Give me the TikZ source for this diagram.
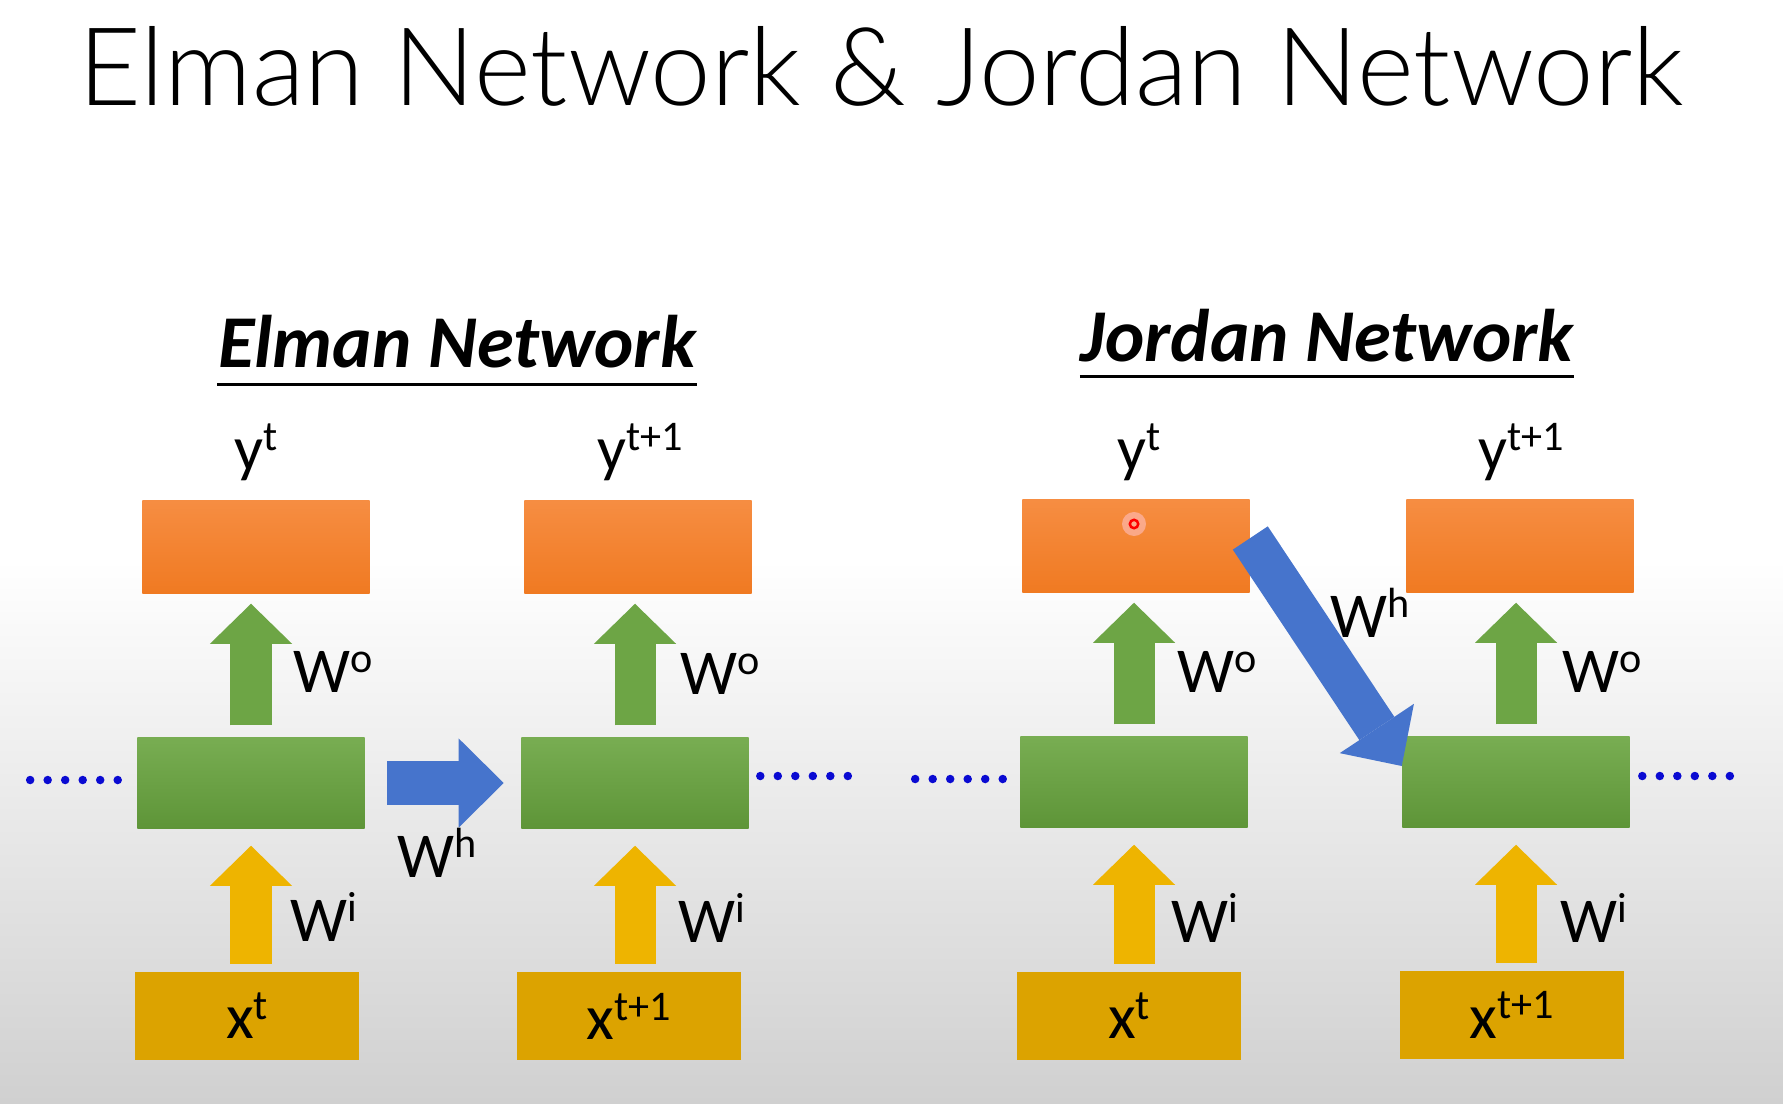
\documentclass[tikz,border=0pt]{standalone}
\usepackage{fontspec}
\setmainfont{Carlito}
\newfontfamily\duenn{Lato Light}
\usetikzlibrary{arrows.meta}
\definecolor{orhell}{HTML}{F68D42}
\definecolor{ordunkel}{HTML}{F07A22}
\definecolor{gruenh}{HTML}{78AD52}
\definecolor{gruend}{HTML}{5E9538}
\definecolor{gruenpf}{HTML}{6DA545}
\definecolor{gelb}{HTML}{DCA300}
\definecolor{gelbpf}{HTML}{EEB400}
\definecolor{blau}{HTML}{4674CC}
\definecolor{punkt}{HTML}{0A0AD2}
\definecolor{grund}{HTML}{D0D0D0}
\newcommand{\hoch}[1]{\raisebox{0.3em}{\fontsize{12}{14}\selectfont #1}}
\tikzset{
  box/.style={rectangle,inner sep=0pt,draw=none,minimum width=2.27cm},
  ausg/.style={box,minimum height=0.92cm,top color=orhell,bottom color=ordunkel},
  vers/.style={box,minimum height=0.9cm,top color=gruenh,bottom color=gruend},
  eing/.style={box,minimum width=2.23cm,minimum height=0.87cm,fill=gelb,font=\fontsize{18.2}{22}\selectfont},
  pfg/.style={-{Triangle[length=4mm,width=8.2mm,line width=0pt]},gruenpf,line width=4.1mm},
  pfy/.style={-{Triangle[length=4mm,width=8.2mm,line width=0pt]},gelbpf,line width=4.1mm},
  pfb/.style={-{Triangle[length=4.5mm,width=8.9mm,line width=0pt]},blau,line width=4.4mm},
  lab/.style={inner sep=0pt,font=\fontsize{18.2}{22}\selectfont},
  unter/.style={inner sep=0pt,font=\fontsize{21.2}{24}\selectfont\bfseries\itshape},
  punkte/.style={punkt,line width=0.85mm,line cap=round,dash pattern=on 0pt off 1.75mm},
}
\begin{document}
\begin{tikzpicture}[x=0.01cm,y=-0.01cm]
  \useasboundingbox (0,0) rectangle (1783,1103);
  \fill[white] (0,0) rectangle (1783,560);
  \shade[top color=white,bottom color=grund] (0,560) rectangle (1783,1103);

  \node[anchor=base,inner sep=0pt,font=\fontsize{30.9}{36}\duenn] (titel) at (881,105) {Elman Network \& Jordan Network};
  \node[unter,anchor=base] (elman) at (457,367) {Elman Network};
  \node[unter,anchor=base] (jordan) at (1327,361) {Jordan Network};
  \draw[line width=0.3mm] ([yshift=-1.7mm]elman.base west) -- ([yshift=-1.7mm]elman.base east);
  \draw[line width=0.3mm] ([yshift=-1.5mm]jordan.base west) -- ([yshift=-1.5mm]jordan.base east);

  % Elman
  \node[ausg] (o1) at (256,547) {};
  \node[ausg] (o2) at (638,547) {};
  \node[vers] (h1) at (251,783) {};
  \node[vers] (h2) at (635,783) {};
  \node[eing] (x1) at (247,1016) {x\hoch{t}};
  \node[eing] (x2) at (629,1016) {x\hoch{t+1}};
  \draw[pfg] ([yshift=1.2mm]h1.north) -- ([yshift=-1mm]h1.north |- o1.south);
  \draw[pfg] ([yshift=1.2mm]h2.north) -- ([yshift=-1mm]h2.north |- o2.south);
  \draw[pfy] ([yshift=0.8mm]h1.south |- x1.north) -- ([yshift=-1.7mm]h1.south);
  \draw[pfy] ([yshift=0.8mm]h2.south |- x2.north) -- ([yshift=-1.7mm]h2.south);
  \draw[pfb] ([xshift=2.2mm]h1.east) -- ([xshift=-1.7mm]h2.west);
  \node[lab,anchor=base] (y1) at (256,470) {y\hoch{t}};
  \node[lab,anchor=base] (y2) at (640,470) {y\hoch{t+1}};
  \node[lab,anchor=base west] (wo1) at (293,692) {W\hoch{o}};
  \node[lab,anchor=base west] (wo2) at (680,694) {W\hoch{o}};
  \node[lab,anchor=base west] (wi1) at (290,941) {W\hoch{i}};
  \node[lab,anchor=base west] (wi2) at (678,942) {W\hoch{i}};
  \node[lab,anchor=base west] (wh1) at (397,877) {W\hoch{h}};
  \draw[punkte] ([xshift=-1.9mm,yshift=0.3mm]h1.west) -- ++(-88,0);
  \draw[punkte] ([xshift=1.1mm,yshift=0.7mm]h2.east) -- ++(88,0);

  % Jordan
  \node[ausg] (jo1) at (1136,546) {};
  \node[ausg] (jo2) at (1520,546) {};
  \node[vers] (jh1) at (1134,782) {};
  \node[vers] (jh2) at (1516,782) {};
  \node[eing] (jx1) at (1129,1016) {x\hoch{t}};
  \node[eing] (jx2) at (1512,1015) {x\hoch{t+1}};
  \draw[pfg] ([yshift=1.2mm]jh1.north) -- ([yshift=-1mm]jh1.north |- jo1.south);
  \draw[pfg] ([yshift=1.2mm]jh2.north) -- ([yshift=-1mm]jh2.north |- jo2.south);
  \draw[pfy] ([yshift=0.8mm]jh1.south |- jx1.north) -- ([yshift=-1.7mm]jh1.south);
  \draw[pfy] ([yshift=0.8mm]jh2.south |- jx2.north) -- ([yshift=-1.7mm]jh2.south);
  \draw[pfb,line width=4.2mm] ([yshift=0.8mm]jo1.east) -- ([yshift=1.6mm]jh2.west);
  \node[lab,anchor=base] (jy1) at (1139,470) {y\hoch{t}};
  \node[lab,anchor=base] (jy2) at (1521,470) {y\hoch{t+1}};
  \node[lab,anchor=base west] (jwo1) at (1177,692) {W\hoch{o}};
  \node[lab,anchor=base west] (jwo2) at (1562,692) {W\hoch{o}};
  \node[lab,anchor=base west] (jwi1) at (1171,942) {W\hoch{i}};
  \node[lab,anchor=base west] (jwi2) at (1560,942) {W\hoch{i}};
  \node[lab,anchor=base west] (jwh) at (1330,637) {W\hoch{h}};
  \draw[punkte] ([xshift=-1.7mm,yshift=0.3mm]jh1.west) -- ++(-90,0);
  \draw[punkte] ([xshift=1.2mm,yshift=0.6mm]jh2.east) -- ++(88,0);

  % Zeiger
  \fill[red!25,opacity=0.6] ([xshift=-0.2mm,yshift=2.2mm]jo1.center) circle (1.2mm);
  \draw[red,line width=0.25mm] ([xshift=-0.2mm,yshift=2.2mm]jo1.center) circle (0.42mm);
\end{tikzpicture}
\end{document}
